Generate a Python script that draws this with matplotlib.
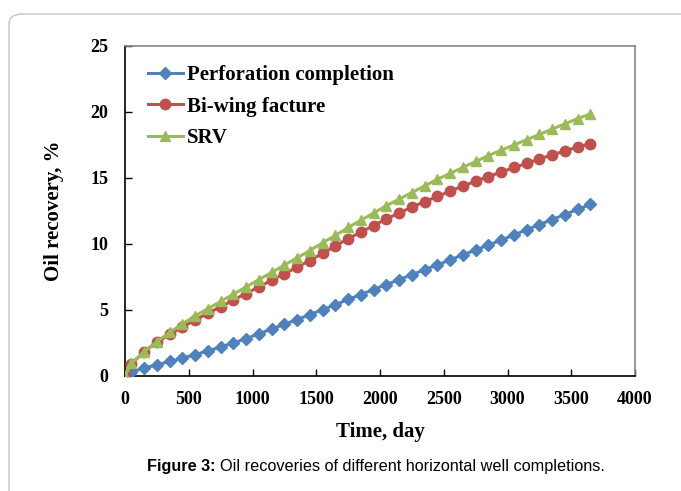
import matplotlib
matplotlib.use("Agg")
import matplotlib.pyplot as plt
from matplotlib.patches import FancyBboxPatch

# Data
days = [0, 50, 150, 250, 350, 450, 550, 650, 750, 850, 950, 1050, 1150, 1250,
        1350, 1450, 1550, 1650, 1750, 1850, 1950, 2050, 2150, 2250, 2350, 2450,
        2550, 2650, 2750, 2850, 2950, 3050, 3150, 3250, 3350, 3450, 3550, 3650]

perforation = [0, 0.3, 0.6, 0.85, 1.1, 1.35, 1.62, 1.9, 2.2, 2.5, 2.83, 3.2,
               3.56, 3.92, 4.28, 4.65, 5.02, 5.4, 5.8, 6.17, 6.55, 6.93, 7.3,
               7.68, 8.05, 8.42, 8.8, 9.17, 9.55, 9.92, 10.3, 10.68, 11.08,
               11.47, 11.85, 12.23, 12.62, 13.0]

biwing = [0, 0.9, 1.85, 2.55, 3.15, 3.7, 4.25, 4.75, 5.25, 5.75, 6.25, 6.75,
          7.25, 7.75, 8.25, 8.75, 9.3, 9.85, 10.4, 10.9, 11.4, 11.9, 12.35,
          12.8, 13.2, 13.6, 14.0, 14.4, 14.75, 15.1, 15.45, 15.8, 16.1, 16.45,
          16.75, 17.05, 17.35, 17.6]

srv = [0, 0.95, 1.85, 2.6, 3.3, 3.95, 4.55, 5.1, 5.65, 6.2, 6.75, 7.3, 7.85,
       8.4, 8.95, 9.5, 10.1, 10.65, 11.25, 11.8, 12.35, 12.9, 13.4, 13.9,
       14.4, 14.9, 15.35, 15.8, 16.25, 16.7, 17.1, 17.5, 17.9, 18.3, 18.7,
       19.1, 19.5, 19.85]

x_ticks = [0, 500, 1000, 1500, 2000, 2500, 3000, 3500, 4000]
y_ticks = [0, 5, 10, 15, 20, 25]

W, H = 681, 491
fig = plt.figure(figsize=(W / 100, H / 100), dpi=100)

# page frame with rounded corner
frame = FancyBboxPatch((9 / W, -0.2), 1.2, (H - 14) / H + 0.2,
                       boxstyle="round,pad=0,rounding_size=0.02",
                       transform=fig.transFigure, facecolor="none",
                       edgecolor="#c4c4c4", linewidth=1.0)
fig.patches.append(frame)

ax = fig.add_axes([125 / W, (H - 376) / H, (635 - 125) / W, (376 - 46) / H])

ax.plot(days, perforation, color="#4F81BD", marker="D", markersize=6.5,
        linewidth=2.2, label="Perforation completion", zorder=3)
ax.plot(days, biwing, color="#C0504D", marker="o", markersize=7.5,
        linewidth=2.2, label="Bi-wing facture", zorder=3)
ax.plot(days, srv, color="#9BBB59", marker="^", markersize=7.5,
        linewidth=2.2, label="SRV", zorder=4)

ax.set_xlim(0, 4000)
ax.set_ylim(0, 25)
ax.set_xticks(x_ticks)
ax.set_yticks(y_ticks)

tick_font = {"family": "Liberation Serif", "weight": "bold", "size": 13}
ax.set_xticklabels([str(v) for v in x_ticks], fontdict=tick_font)
ax.set_yticklabels([str(v) for v in y_ticks], fontdict=tick_font)
ax.tick_params(axis="x", direction="in", length=5, width=1, pad=11)
ax.tick_params(axis="y", direction="in", length=5, width=1, pad=12)

for side in ["left", "bottom"]:
    ax.spines[side].set_color("black")
    ax.spines[side].set_linewidth(1.2)
for side in ["top", "right"]:
    ax.spines[side].set_color("#868686")
    ax.spines[side].set_linewidth(1.2)

label_font = {"family": "Liberation Serif", "weight": "bold", "size": 15}
ax.set_xlabel("Time, day", fontdict=label_font, labelpad=10)
ax.set_ylabel("Oil recovery, %", fontdict=label_font, labelpad=19)

ax.legend(loc="upper left", bbox_to_anchor=(0.02, 0.98), frameon=False,
          prop={"family": "Liberation Serif", "weight": "bold", "size": 15},
          handlelength=1.7, handletextpad=0.2, labelspacing=0.55,
          borderaxespad=0.2)

# caption below the chart
cap_y = 1 - 466 / H
t1 = fig.text(147 / W, cap_y, "Figure 3:", fontsize=11.7, fontweight="bold",
              family="Liberation Sans", ha="left", va="center")
fig.canvas.draw()
bb = t1.get_window_extent()
fig.text((bb.x1 + 4) / W, cap_y,
         "Oil recoveries of different horizontal well completions.",
         fontsize=11.7, family="Liberation Sans", ha="left", va="center")

fig.savefig("out.png", dpi=100)
